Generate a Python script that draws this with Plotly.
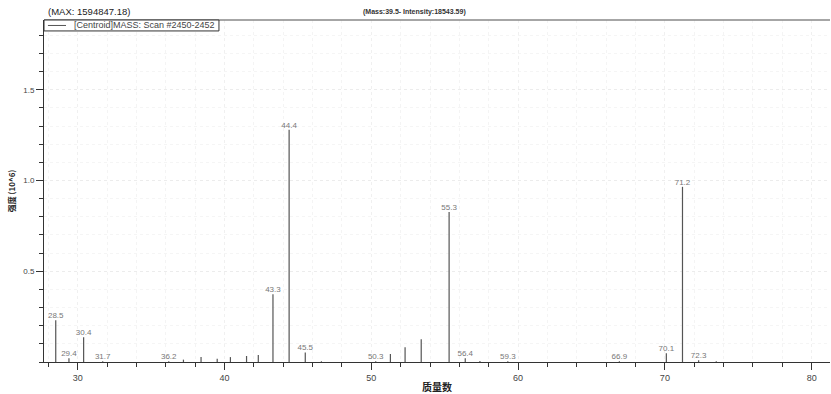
import plotly.graph_objects as go

# Data: centroid mass spectrum (intensity in 10^6)
masses = [28.5, 29.4, 30.4, 31.7, 36.2, 37.2, 38.4, 39.5, 40.4, 41.5, 42.3, 43.3, 44.4,
          45.5, 46.6, 50.3, 51.3, 52.3, 53.4, 55.3, 56.4, 57.4, 59.3, 66.9, 70.1, 71.2,
          72.3, 73.5]
intensities = [0.23, 0.02, 0.136, 0.004, 0.004, 0.013, 0.027, 0.0185, 0.027, 0.033, 0.038,
               0.373, 1.28, 0.053, 0.004, 0.004, 0.044, 0.081, 0.125, 0.826, 0.02, 0.006,
               0.004, 0.004, 0.048, 0.965, 0.01, 0.004]
labeled_masses = [28.5, 29.4, 30.4, 31.7, 36.2, 43.3, 44.4, 45.5, 50.3, 55.3, 56.4, 59.3,
                  66.9, 70.1, 71.2, 72.3]
x_ticks = [30, 40, 50, 60, 70, 80]
y_ticks = [0.5, 1.0, 1.5]
y_ticktext = ["0.5", "1.0", "1.5"]

# stick lines
lx, ly = [], []
for m, v in zip(masses, intensities):
    lx += [m, m, None]
    ly += [0, v, None]

lab_x = [m for m in masses if m in labeled_masses]
lab_y = [v for m, v in zip(masses, intensities) if m in labeled_masses]
lab_t = [f"{m:.1f}" for m in lab_x]

fig = go.Figure()
fig.add_trace(go.Scatter(x=lx, y=ly, mode="lines",
                         line=dict(color="#555555", width=1.2),
                         hoverinfo="skip", showlegend=False))
fig.add_trace(go.Scatter(x=lab_x, y=lab_y, mode="text", text=lab_t,
                         textposition="top center",
                         textfont=dict(family="Liberation Sans, Arial", size=8, color="#777777"),
                         showlegend=False))

fig.update_layout(
    width=831, height=394,
    margin=dict(l=44, r=1, t=20, b=32),
    paper_bgcolor="white", plot_bgcolor="white",
    font=dict(family="Liberation Sans, Arial", color="#333333"),
    xaxis=dict(
        range=[27.7, 81.25], tickvals=x_ticks, showline=True, linecolor="#333333",
        linewidth=1, ticks="outside", ticklen=7, tickcolor="#333333",
        tickfont=dict(size=9, color="#444444"),
        showgrid=True, gridcolor="#f0f0f0", griddash="dot", zeroline=False,
        minor=dict(dtick=2, ticks="outside", ticklen=4, tickcolor="#333333",
                   showgrid=True, gridcolor="#f4f4f4", griddash="dot"),
        title=dict(text="<b>质量数</b>", standoff=2,
                   font=dict(family="Noto Sans CJK SC", size=10, color="#222222")),
    ),
    yaxis=dict(
        range=[0, 1.884], tickvals=y_ticks, ticktext=y_ticktext, showline=True,
        linecolor="#333333", linewidth=1, ticks="outside", ticklen=7,
        tickcolor="#333333", tickfont=dict(size=8, color="#444444"),
        showgrid=True, gridcolor="#ececec", griddash="dot", zeroline=False,
        minor=dict(dtick=0.1, tick0=0, ticks="outside", ticklen=4, tickcolor="#333333",
                   showgrid=True, gridcolor="#f5f5f5", griddash="dot"),
        title=dict(text="<b>强度 (10^6)</b>", standoff=6,
                   font=dict(family="Noto Sans CJK SC", size=8, color="#222222")),
    ),
    showlegend=False,
)

# top frame line
fig.add_shape(type="line", xref="paper", yref="paper", x0=0, x1=1, y0=1, y1=1,
              line=dict(color="#888888", width=1.5))
# legend box
fig.add_shape(type="rect", xref="paper", yref="paper", x0=0, x1=0.2226, y0=0.968, y1=1,
              line=dict(color="#333333", width=1), fillcolor="white")
fig.add_shape(type="line", xref="paper", yref="paper", x0=0.005, x1=0.028, y0=0.984, y1=0.984,
              line=dict(color="#555555", width=1))
fig.add_annotation(xref="paper", yref="paper", x=0.035, y=0.984, xanchor="left",
                   yanchor="middle", showarrow=False,
                   text="[Centroid]MASS: Scan #2450-2452",
                   font=dict(family="Liberation Sans, Arial", size=9, color="#444444"))
fig.add_annotation(xref="paper", yref="paper", x=0.002, y=1.0, xanchor="left",
                   yanchor="bottom", showarrow=False, yshift=1,
                   text="(MAX: 1594847.18)",
                   font=dict(family="Liberation Sans, Arial", size=9.5, color="#222222"))
fig.add_annotation(xref="paper", yref="paper", x=0.472, y=1.0, xanchor="center",
                   yanchor="bottom", showarrow=False, yshift=2,
                   text="<b>(Mass:39.5- Intensity:18543.59)</b>",
                   font=dict(family="Liberation Sans, Arial", size=7, color="#333333"))

fig.write_html("out.html")
